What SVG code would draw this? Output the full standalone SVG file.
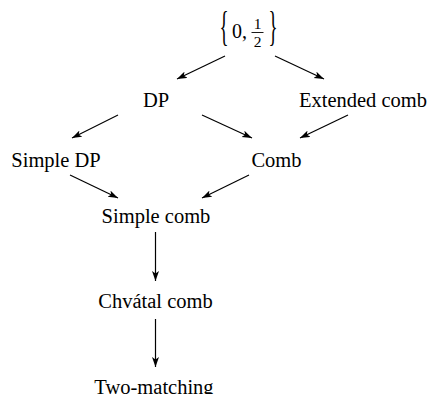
<svg xmlns="http://www.w3.org/2000/svg" width="433" height="394" viewBox="0 0 433 394">
  <style>
    .lbl { font-family: "Liberation Serif", "Times New Roman", serif; font-size: 20.5px; fill: #000; text-anchor: middle; }
    .math { font-family: "Liberation Serif", "Times New Roman", serif; fill: #000; }
    .edge { stroke: #000; stroke-width: 1.2; fill: none; marker-end: url(#ah); }
  </style>
  <defs>
    <marker id="ah" markerUnits="userSpaceOnUse" markerWidth="12" markerHeight="8" refX="10" refY="3.5" orient="auto">
      <path d="M0,0 L10,3.5 L0,7 L2.5,3.5 z" fill="#000"/>
    </marker>
  </defs>
  <rect width="433" height="394" fill="#fff"/>

  <g id="node-set">
    <text class="math" font-size="42" transform="translate(224,39.5) scale(0.45,1)" text-anchor="middle">{</text>
    <text class="math" font-size="20" x="232" y="38">0,</text>
    <text class="math" font-size="15.5" x="257.5" y="28.5" text-anchor="middle">1</text>
    <line x1="251.5" y1="32.5" x2="263.5" y2="32.5" stroke="#000" stroke-width="0.9"/>
    <text class="math" font-size="15.5" x="257.5" y="46.5" text-anchor="middle">2</text>
    <text class="math" font-size="42" transform="translate(273,39.5) scale(0.45,1)" text-anchor="middle">}</text>
  </g>
  <g id="node-dp"><text class="lbl" x="156" y="107">DP</text></g>
  <g id="node-extended-comb"><text class="lbl" x="363" y="107">Extended comb</text></g>
  <g id="node-simple-dp"><text class="lbl" x="56" y="167">Simple DP</text></g>
  <g id="node-comb"><text class="lbl" x="276.5" y="167">Comb</text></g>
  <g id="node-simple-comb"><text class="lbl" x="156" y="223">Simple comb</text></g>
  <g id="node-chvatal-comb"><text class="lbl" x="155.5" y="308">Chvátal comb</text></g>
  <g id="node-two-matching"><text class="lbl" x="154" y="394">Two-matching</text></g>

  <g id="connectors">
    <line class="edge" x1="225" y1="56" x2="177" y2="79"/>
    <line class="edge" x1="275" y1="56" x2="324" y2="79"/>
    <line class="edge" x1="118" y1="115" x2="72" y2="138"/>
    <line class="edge" x1="202" y1="115" x2="252" y2="138"/>
    <line class="edge" x1="348" y1="115" x2="300" y2="138"/>
    <line class="edge" x1="70" y1="175" x2="118" y2="198"/>
    <line class="edge" x1="249" y1="175" x2="202" y2="198"/>
    <line class="edge" x1="155.5" y1="232" x2="155.5" y2="281"/>
    <line class="edge" x1="155.5" y1="319" x2="155.5" y2="367"/>
  </g>
</svg>
